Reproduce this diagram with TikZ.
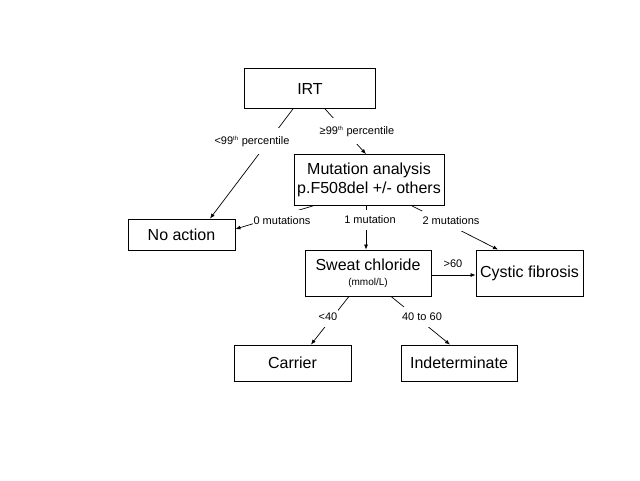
\documentclass[tikz,border=0pt]{standalone}
\usepackage{fontspec}
\setmainfont{Liberation Sans}
\usetikzlibrary{arrows.meta}
\tikzset{
  box/.style={draw=black, line width=0.8pt, rectangle, inner sep=0pt, align=center,
    font=\fontsize{16}{19}\selectfont},
  lbl/.style={fill=white, inner xsep=1pt, inner ysep=6pt, font=\fontsize{11}{13}\selectfont},
  conn/.style={line width=0.7pt, -{Latex[length=5pt,width=4pt]}},
}
\newcommand{\supth}{\textsuperscript{\fontsize{6}{7}\selectfont th}}
\begin{document}
\begin{tikzpicture}[x=1pt,y=-1pt]
\useasboundingbox (0,0) rectangle (640,480);
\node[box, minimum width=131pt, minimum height=40pt] (irt) at (310,88.5) {IRT};
\node[box, minimum width=150pt, minimum height=51pt] (mut) at (369,180) {Mutation analysis\\p.F508del +/- others};
\node[box, minimum width=107pt, minimum height=31pt] (noact) at (181.5,234.5) {No action};
\node[box, minimum width=126pt, minimum height=46pt] (sweat) at (368,273) {Sweat chloride\\[-4pt]{\fontsize{10}{11}\selectfont (mmol/L)}};
\node[box, minimum width=107pt, minimum height=46pt] (cf) at (529.5,273) {Cystic fibrosis};
\node[box, minimum width=117pt, minimum height=36pt] (carrier) at (292.5,363) {Carrier};
\node[box, minimum width=116pt, minimum height=36pt] (indet) at (459,363) {Indeterminate};

\draw[conn] ([xshift=-17pt]irt.south) -- ([xshift=28.5pt]noact.north);
\draw[conn] ([xshift=15pt]irt.south) -- ([xshift=-3pt]mut.north);
\draw[conn] ([xshift=-56pt]mut.south) -- ([yshift=5.5pt]noact.east);
\draw[conn] ([xshift=-3pt]mut.south) -- ([xshift=-3pt]mut.south |- sweat.north);
\draw[conn] ([xshift=43pt]mut.south) -- ([xshift=-31.5pt]cf.north);
\draw[conn] ([yshift=-2pt]sweat.east) -- ([yshift=-2pt]cf.west);
\draw[conn] ([xshift=-19pt]sweat.south) -- ([xshift=18.5pt]carrier.north);
\draw[conn] ([xshift=23pt]sweat.south) -- ([xshift=-9pt]indet.north);

\node[lbl, inner ysep=7.5pt] (l1) at (252,141) {<99\supth{} percentile};
\node[lbl, inner ysep=8pt] (l2) at (357,131) {≥99\supth{} percentile};
\node[lbl, inner ysep=7pt] (l3) at (282,221) {0 mutations};
\node[lbl, inner ysep=5.5pt] (l4) at (370,220) {1 mutation};
\node[lbl] (l5) at (451,221) {2 mutations};
\node[lbl, fill=none] (l6) at (453,264) {>60};
\node[lbl] (l7) at (328,317) {<40};
\node[lbl] (l8) at (422,317) {40 to 60};
\end{tikzpicture}
\end{document}
